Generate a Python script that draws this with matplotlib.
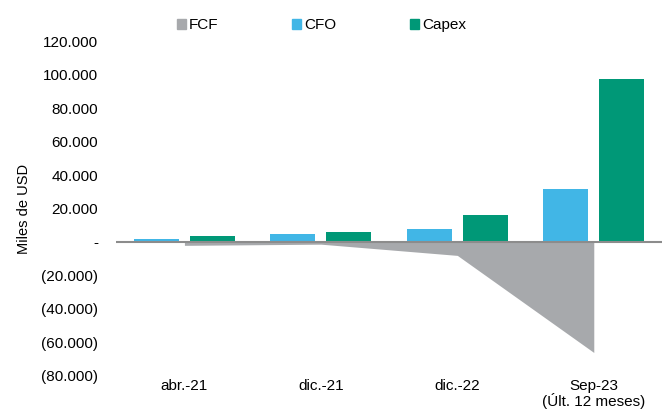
import numpy as np
import matplotlib.pyplot as plt
from matplotlib.patches import Patch
from matplotlib.ticker import FuncFormatter

plt.rcParams["font.family"] = ["Liberation Sans", "DejaVu Sans"]

# Flujo de caja (miles de USD)
periodos = ["abr.-21", "dic.-21", "dic.-22", "Sep-23\n(Últ. 12 meses)"]
cfo = [1500, 4500, 8000, 31500]
capex = [3600, 5800, 16000, 97500]
fcf = [-2000, -1300, -8000, -66000]

c_fcf = "#A7A9AC"
c_cfo = "#41B6E6"
c_capex = "#009877"

x = np.arange(len(periodos))
w = 0.33

fig = plt.figure(figsize=(6.64, 4.2), dpi=100)
ax = fig.add_axes([0.175, 0.105, 0.822, 0.797])

ax.fill_between(x, fcf, 0, color=c_fcf, linewidth=0, zorder=1)
ax.bar(x - 0.205, cfo, w, color=c_cfo, zorder=2)
ax.bar(x + 0.205, capex, w, color=c_capex, zorder=2)
ax.axhline(0, color="#8C8C8C", linewidth=1.5, zorder=3)

ax.set_xlim(-0.5, len(periodos) - 0.5)
ax.set_ylim(-80000, 120000)
ax.set_yticks(np.arange(-80000, 120001, 20000))


def miles(v, pos):
    if v == 0:
        return "-"
    s = f"{abs(v):,.0f}".replace(",", ".")
    return f"({s})" if v < 0 else s


ax.yaxis.set_major_formatter(FuncFormatter(miles))
ax.set_xticks(x)
ax.set_xticklabels(periodos, linespacing=1.0)
ax.tick_params(axis="both", length=0, labelsize=11, colors="black")
ax.tick_params(axis="y", pad=13)
ax.tick_params(axis="x", pad=2)
for s in ax.spines.values():
    s.set_visible(False)

ax.set_ylabel("Miles de USD", fontsize=10.5)
ax.yaxis.set_label_coords(-0.157, 0.5)

handles = [Patch(color=c_fcf), Patch(color=c_cfo), Patch(color=c_capex)]
fig.legend(handles, ["FCF", "CFO", "Capex"], loc="center left",
           bbox_to_anchor=(0.2666, 0.94), ncol=3, frameon=False,
           fontsize=11, handlelength=0.6, handleheight=0.6,
           handletextpad=0.2, columnspacing=4.8, borderpad=0,
           borderaxespad=0)

fig.savefig("out.png", dpi=100)
